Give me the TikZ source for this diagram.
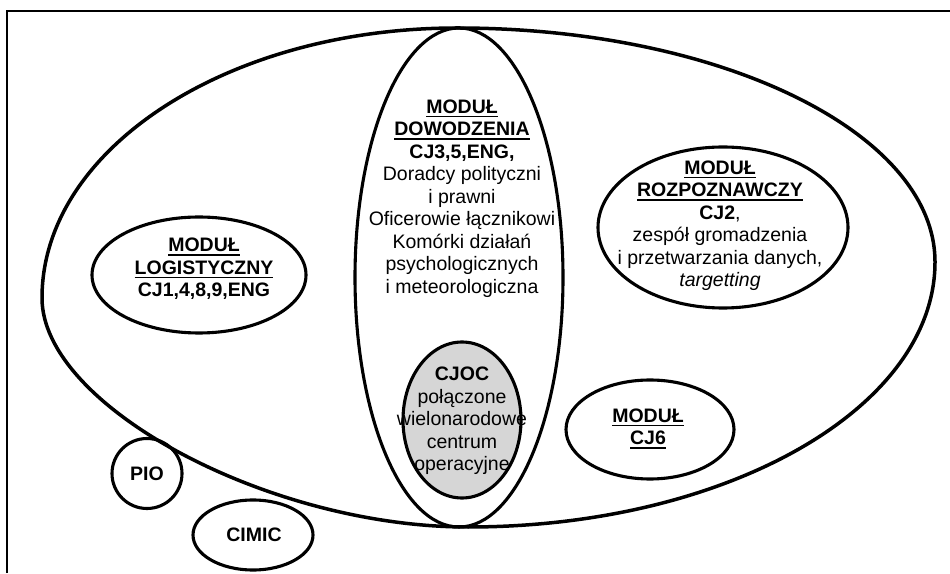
\documentclass[tikz,border=0pt]{standalone}
\usepackage{fontspec}
\setmainfont{Liberation Sans}
\usetikzlibrary{shapes.geometric}
% underline with a rule a little below the baseline
\newcommand\undl[1]{\setbox0\hbox{#1}\leavevmode\rlap{\vrule width \wd0 height -2.6pt depth 4.1pt}\box0}
\begin{document}
\begin{tikzpicture}[x=1pt,y=1pt,
  oval/.style={draw, ellipse, inner sep=0pt, line width=3.1pt},
  lbl/.style={align=center, inner sep=0pt, font=\fontsize{19.5}{22.5}\selectfont},
]
\useasboundingbox (0,0) rectangle (950,573);
\fill[white] (0,0) rectangle (950,573);
% page frame
\draw[line width=1.6pt] (7,0) -- (7,562) -- (950,562);

% whole headquarters: a slightly irregular oval made of four quarter arcs
\draw[line width=3.5pt]
  (457,545) .. controls (721,545) and (935,440) .. (935,311)
            .. controls (935,164.6) and (725.9,46) .. (468,46)
            .. controls (267.8,46) and (42,167.4) .. (42,275)
            .. controls (42,424.1) and (227.8,545) .. cycle;
% command module
\node[oval, minimum width=208pt, minimum height=499pt] (dow) at (459,295.5) {};
\node[lbl] (dowtxt) at (462,374.5) {\textbf{\undl{MODUŁ}}\\\textbf{\undl{DOWODZENIA}}\\\textbf{CJ3,5,ENG,}\\Doradcy polityczni\\i prawni\\Oficerowie łącznikowi\\Komórki działań\\psychologicznych\\i meteorologiczna};
% joint operations centre
\node[oval, fill=black!16, minimum width=118pt, minimum height=156pt] (cjoc) at (462,153) {};
\node[lbl] (cjoctxt) at (462,152) {\textbf{CJOC}\\połączone\\wielonarodowe\\centrum\\operacyjne};
% logistics module
\node[oval, minimum width=214pt, minimum height=116pt] (log) at (199,298) {};
\node[lbl] (logtxt) at (204,304) {\textbf{\undl{MODUŁ}}\\\textbf{\undl{LOGISTYCZNY}}\\\textbf{CJ1,4,8,9,ENG}};
% reconnaissance module
\node[oval, minimum width=250pt, minimum height=161pt] (roz) at (723,345.5) {};
\node[lbl] (roztxt) at (720,347.5) {\textbf{\undl{MODUŁ}}\\\textbf{\undl{ROZPOZNAWCZY}}\\\textbf{CJ2},\\zespół gromadzenia\\i przetwarzania danych,\\\textit{targetting}};
% CJ6 module
\node[oval, minimum width=168pt, minimum height=99pt] (cj6) at (650,143.5) {};
\node[lbl] (cj6txt) at (648,144.5) {\textbf{\undl{MODUŁ}}\\\textbf{\undl{CJ6}}};
% cells outside
\node[oval, minimum width=70pt, minimum height=70pt] (pio) at (147,99.5) {};
\node[lbl] (piotxt) at (147,99.5) {\textbf{PIO}};
\node[oval, minimum width=120pt, minimum height=70pt] (cimic) at (253,38) {};
\node[lbl] (cimictxt) at (254,38) {\textbf{CIMIC}};
\end{tikzpicture}
\end{document}
